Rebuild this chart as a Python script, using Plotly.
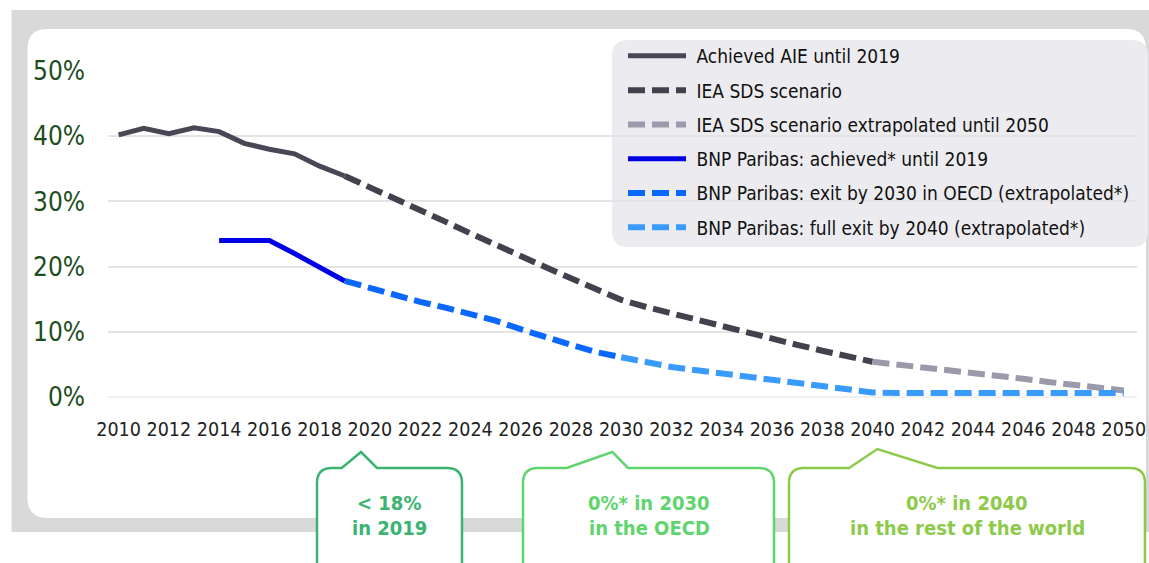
import plotly.graph_objects as go

# ---------------- data ----------------
years_iea_hist = list(range(2010, 2020))
iea_hist = [40.2, 41.2, 40.4, 41.3, 40.7, 38.9, 38.0, 37.3, 35.4, 33.9]

years_iea_sds = list(range(2019, 2041))
iea_sds = [33.9, 32.2, 30.5, 28.7, 26.9, 25.1, 23.3, 21.6, 19.9, 18.2, 16.5,
           14.9, 13.8, 12.8, 11.8, 10.9, 9.9, 8.9, 8.0, 7.1, 6.2, 5.4]

years_iea_ext = list(range(2040, 2051))
iea_ext = [5.4, 5.0, 4.5, 4.1, 3.6, 3.2, 2.8, 2.3, 1.9, 1.4, 1.0]

years_bnp_hist = list(range(2014, 2020))
bnp_hist = [24.0, 24.0, 24.0, 22.0, 19.9, 17.8]

years_bnp_oecd = list(range(2019, 2031))
bnp_oecd = [17.8, 16.7, 15.6, 14.6, 13.7, 12.8, 11.7, 10.4, 9.1, 8.0, 6.9, 6.1]

years_bnp_full = list(range(2030, 2051))
bnp_full = [6.1, 5.3, 4.6, 4.1, 3.6, 3.1, 2.5, 2.0, 1.5, 1.0, 0.7,
            0.6, 0.6, 0.6, 0.6, 0.6, 0.6, 0.6, 0.6, 0.6, 0.6]

series_names = [
    "Achieved AIE until 2019",
    "IEA SDS scenario",
    "IEA SDS scenario extrapolated until 2050",
    "BNP Paribas: achieved* until 2019",
    "BNP Paribas: exit by 2030 in OECD (extrapolated*)",
    "BNP Paribas: full exit by 2040 (extrapolated*)",
]

x_tick_years = list(range(2010, 2051, 2))
x_tick_labels = [str(y) for y in x_tick_years]
y_tick_values = [0, 10, 20, 30, 40, 50]
y_tick_labels = ["0%", "10%", "20%", "30%", "40%", "50%"]

callout_texts = [
    ("< 18%", "in 2019"),
    ("0%* in 2030", "in the OECD"),
    ("0%* in 2040", "in the rest of the world"),
]

# ---------------- styling / layout (positions in page pixels) ----------------
NARROW = "DejaVu Sans Condensed, DejaVu Sans, sans-serif"
W, H = 1149, 563                          # figure size (page body margin removed)
L, R, T, B = 108, 1137, 71, 397           # plot area in page pixels
PX_PER_YEAR = 25.13
X2010 = 118.6
x_range = [2010 - (X2010 - L) / PX_PER_YEAR, 2010 + (R - X2010) / PX_PER_YEAR]


def X(p):
    return (p - L) / (R - L)


def Y(p):
    return (B - p) / (B - T)


def pt(x, y):
    return f"{X(x):.5f},{Y(y):.5f}"


def rrect(x0, y0, x1, y1, r):
    return (f"M{pt(x0 + r, y0)} L{pt(x1 - r, y0)} Q{pt(x1, y0)} {pt(x1, y0 + r)} "
            f"L{pt(x1, y1 - r)} Q{pt(x1, y1)} {pt(x1 - r, y1)} "
            f"L{pt(x0 + r, y1)} Q{pt(x0, y1)} {pt(x0, y1 - r)} "
            f"L{pt(x0, y0 + r)} Q{pt(x0, y0)} {pt(x0 + r, y0)} Z")


def callout(x0, x1, ytop, ybot, r, bl, ax, ay, br):
    return (f"M{pt(x0, ybot)} L{pt(x0, ytop + r)} Q{pt(x0, ytop)} {pt(x0 + r, ytop)} "
            f"L{pt(bl, ytop)} L{pt(ax, ay)} L{pt(br, ytop)} "
            f"L{pt(x1 - r, ytop)} Q{pt(x1, ytop)} {pt(x1, ytop + r)} "
            f"L{pt(x1, ybot)} Z")


fig = go.Figure()

line_styles = [
    dict(color="#474756", width=5),
    dict(color="#42424f", width=6, dash="17px,7px"),
    dict(color="#9a9aaa", width=6, dash="17px,7px"),
    dict(color="#0000e6", width=5),
    dict(color="#0a68ff", width=6, dash="17px,7px"),
    dict(color="#3a9bff", width=6, dash="17px,7px"),
]
series = [
    (years_iea_hist, iea_hist),
    (years_iea_sds, iea_sds),
    (years_iea_ext, iea_ext),
    (years_bnp_hist, bnp_hist),
    (years_bnp_oecd, bnp_oecd),
    (years_bnp_full, bnp_full),
]
for i, ((xs, ys), name, ls) in enumerate(zip(series, series_names, line_styles)):
    fig.add_trace(go.Scatter(x=xs, y=ys, mode="lines", name="\u00a0" + name,
                             legendgroup=f"g{i}", line=ls, hoverinfo="skip"))

shapes = [
    dict(type="rect", xref="paper", yref="paper", x0=X(11.5), x1=X(1170),
         y0=Y(10), y1=Y(532), fillcolor="#d9d9d9", line=dict(width=0), layer="below"),
    dict(type="path", xref="paper", yref="paper", path=rrect(27.5, 29, 1146, 518, 20),
         fillcolor="#ffffff", line=dict(width=0), layer="below"),
    dict(type="path", xref="paper", yref="paper", path=rrect(612, 40, 1148, 247, 16),
         fillcolor="#ececf0", line=dict(width=0), layer="below"),
]

callout_geom = [
    dict(x0=317, x1=462, bl=341.7, ax=361, ay=452, br=377, color="#3bb371", cx=389),
    dict(x0=523, x1=774, bl=566.7, ax=612.3, ay=452, br=628, color="#60d46e", cx=649),
    dict(x0=789, x1=1145, bl=849, ax=877.4, ay=449, br=937.5, color="#8dca4a", cx=967),
]
for g in callout_geom:
    shapes.append(dict(type="path", xref="paper", yref="paper",
                       path=callout(g["x0"], g["x1"], 468, 640, 15, g["bl"], g["ax"], g["ay"], g["br"]),
                       fillcolor="#ffffff", line=dict(color=g["color"], width=2.5), layer="above"))

annotations = []
for g, (l1, l2) in zip(callout_geom, callout_texts):
    for txt, yy in ((l1, 503), (l2, 528)):
        annotations.append(dict(xref="paper", yref="paper", x=X(g["cx"]), y=Y(yy),
                                text=f"<b>{txt}</b>", showarrow=False,
                                xanchor="center", yanchor="middle",
                                font=dict(family=NARROW, size=20, color=g["color"])))

fig.update_layout(
    width=W, height=H, autosize=False,
    margin=dict(l=L, r=W - R, t=T, b=H - B, pad=0, autoexpand=False),
    paper_bgcolor="#ffffff", plot_bgcolor="rgba(0,0,0,0)",
    shapes=shapes, annotations=annotations,
    showlegend=True,
    legend=dict(x=X(623), y=Y(37), xanchor="left", yanchor="top",
                bgcolor="rgba(0,0,0,0)", borderwidth=0, itemwidth=58,
                font=dict(family=NARROW, size=19, color="#111111"),
                tracegroupgap=6.6),
    xaxis=dict(range=x_range, tickmode="array", tickvals=x_tick_years, ticktext=x_tick_labels,
               showgrid=False, zeroline=False, showline=False, ticks="", tickangle=0,
               ticklabeloverflow="allow",
               tickfont=dict(family=NARROW, size=19.5, color="#222222"),
               ticklabelstandoff=18, fixedrange=True),
    yaxis=dict(range=[0, 50], tickmode="array", tickvals=y_tick_values, ticktext=y_tick_labels,
               showgrid=True, gridcolor="#e4e4e4", gridwidth=2,
               zeroline=True, zerolinecolor="#f0f0f0", zerolinewidth=2,
               showline=False, ticks="",
               tickfont=dict(family=NARROW, size=26, color="#1d4d1d"),
               ticklabelstandoff=22, fixedrange=True),
)

fig.write_html(
    "out.html",
    config={"displayModeBar": False, "staticPlot": False},
    post_script="document.body.style.margin='0px';document.body.style.overflow='hidden';",
)
